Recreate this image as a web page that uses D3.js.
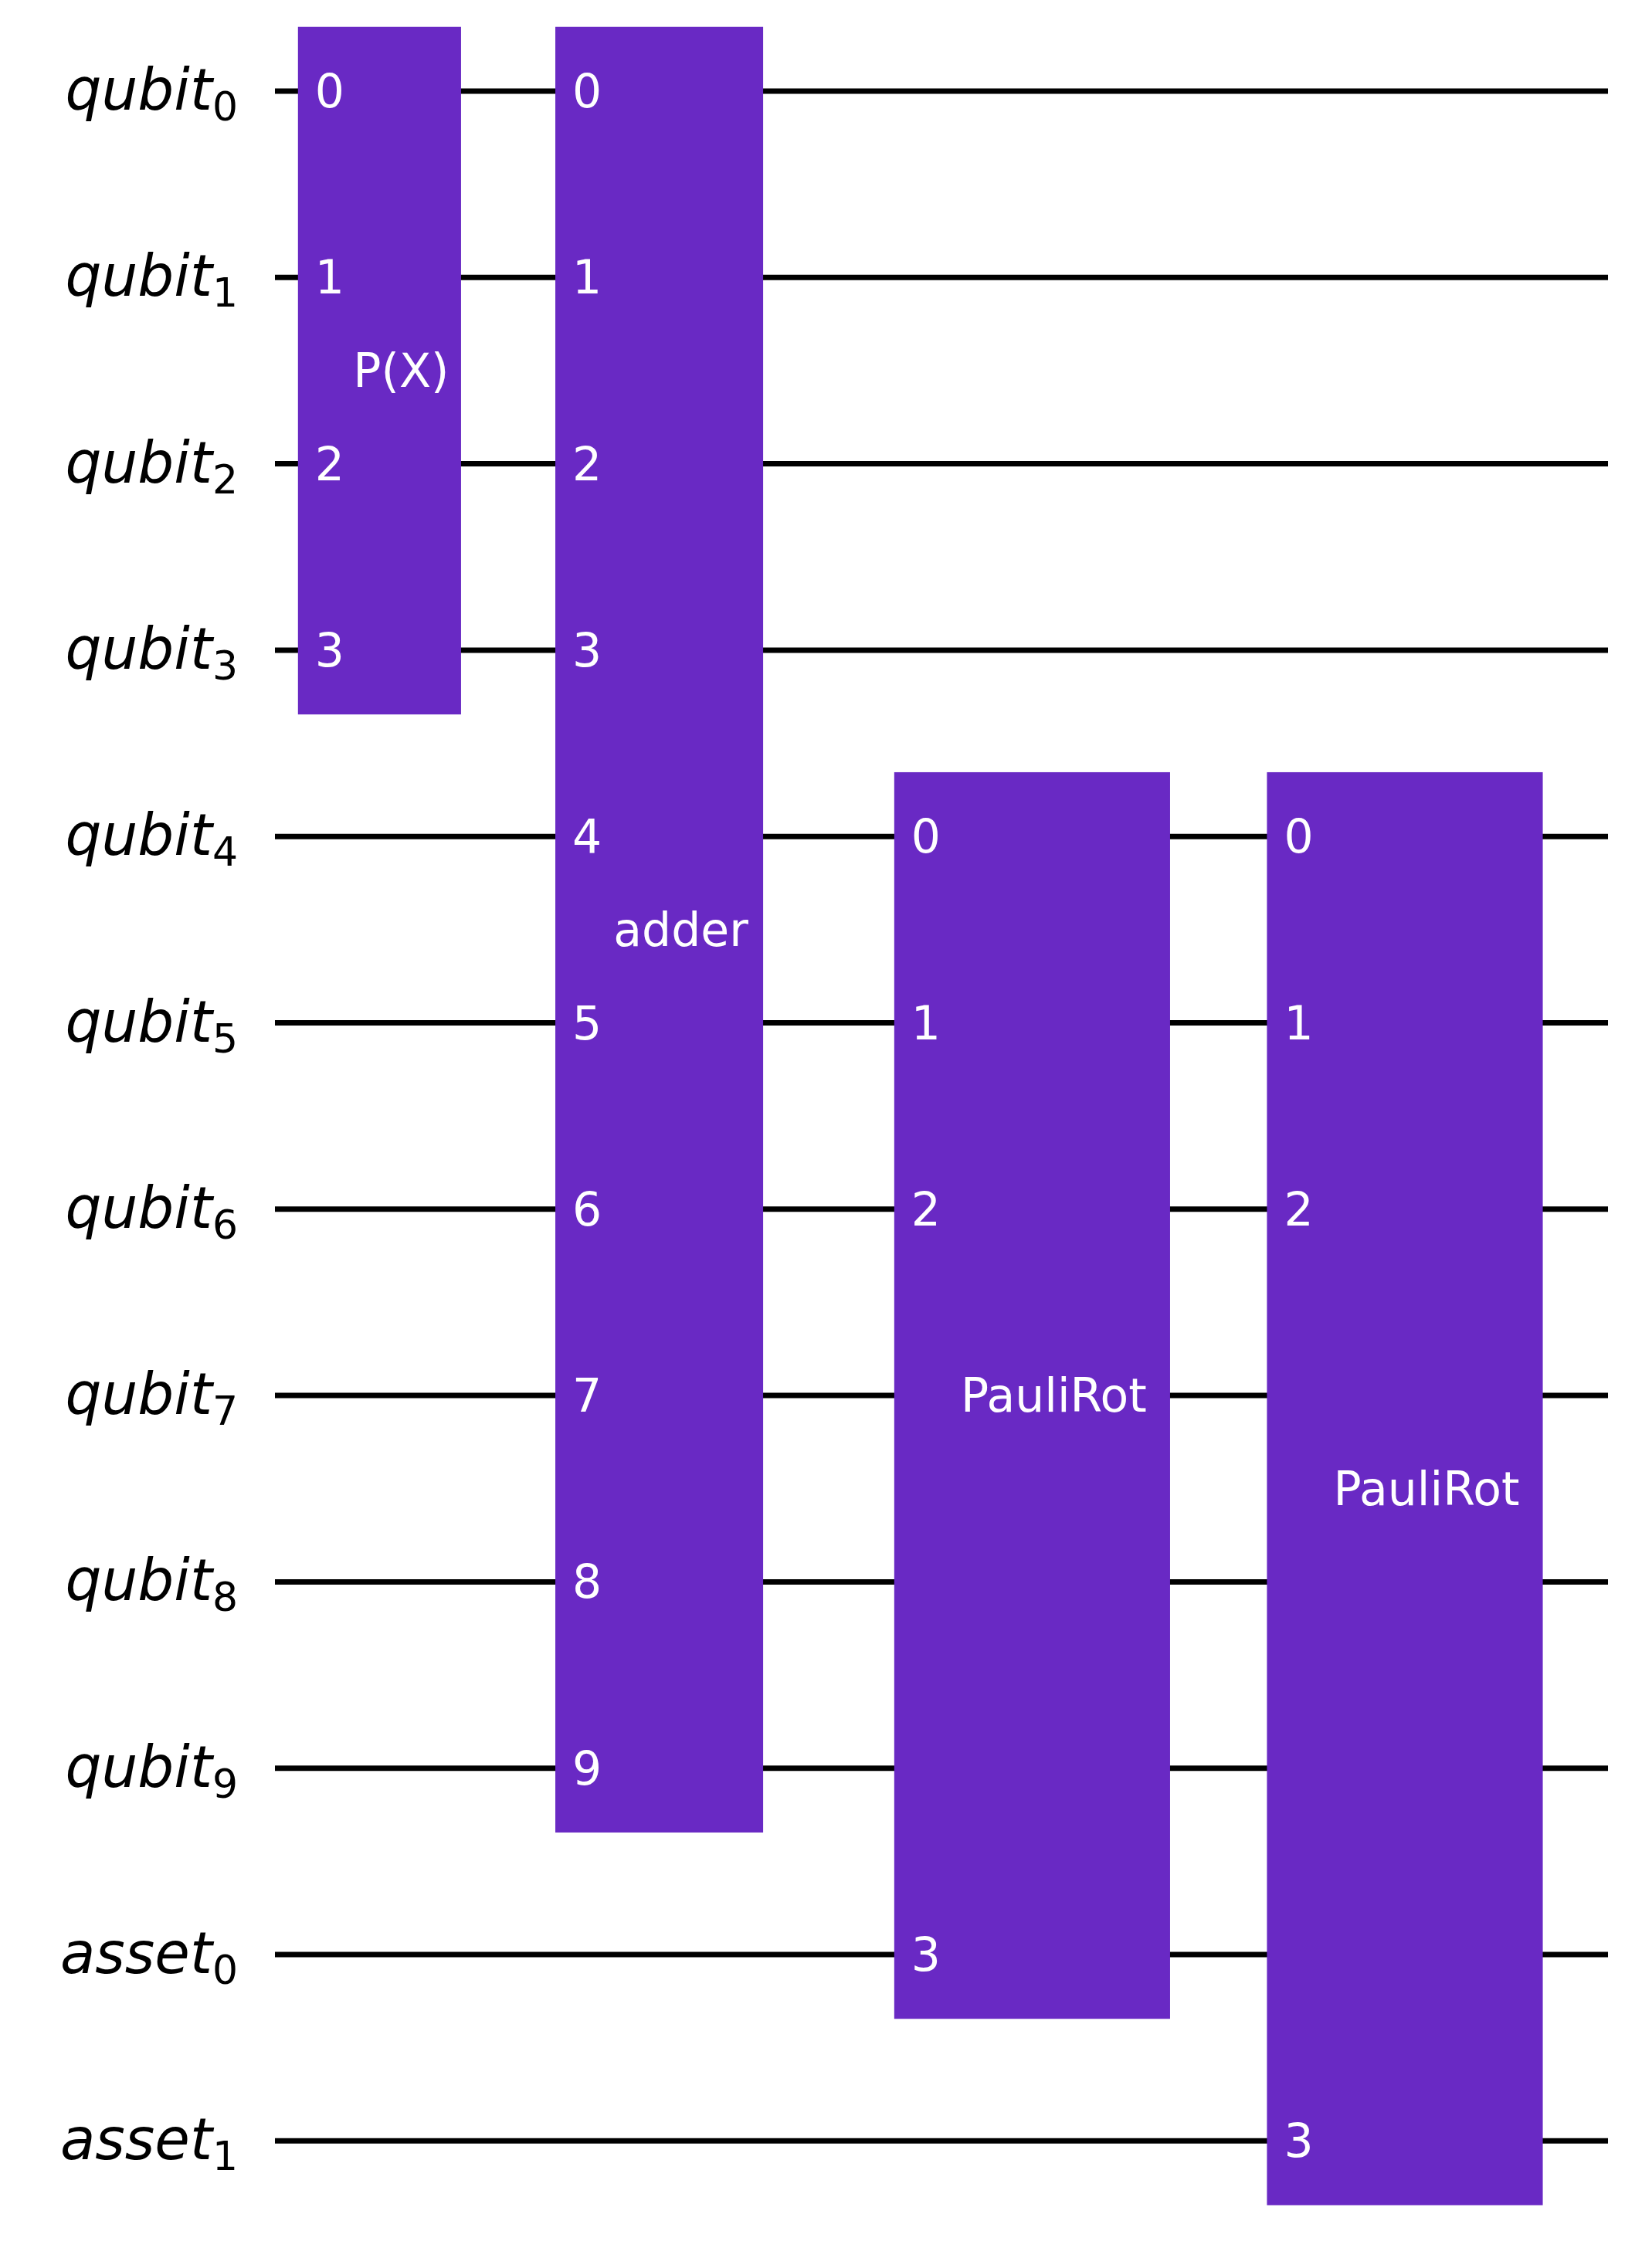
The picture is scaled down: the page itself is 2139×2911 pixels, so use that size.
<!DOCTYPE html>
<html><head><meta charset="utf-8">
<script src="https://cdn.jsdelivr.net/npm/d3@7"></script>
<style>body{margin:0;background:#fff}</style></head>
<body><script>
const wireNames = ["qubit","qubit","qubit","qubit","qubit","qubit","qubit","qubit","qubit","qubit","asset","asset"];
const wireSubs = ["0","1","2","3","4","5","6","7","8","9","0","1"];
const gateNames = ["P(X)","adder","PauliRot","PauliRot"];
const gateQubits = [[0,1,2,3],[0,1,2,3,4,5,6,7,8,9],[4,5,6,10],[4,5,6,11]];
const gateCenters = [0.561,2.062,4.063,6.063];
const gateWidths = [0.875,1.115,1.48,1.48];
const wireEnd = 7.153;

const W=2139,H=2911;
const svg=d3.select("body").append("svg").attr("width",W).attr("height",H);
const y=d3.scaleLinear().domain([0,1]).range([118,359.3]);
const x=d3.scaleLinear().domain([0,1]).range([356,597.3]);
const color="#6929C4";

svg.selectAll("line.w").data(wireNames).join("line")
 .attr("x1",x(0)).attr("x2",x(wireEnd)).attr("y1",(d,i)=>y(i)).attr("y2",(d,i)=>y(i))
 .attr("stroke","#000").attr("stroke-width",7);

const lab=svg.selectAll("text.l").data(wireNames).join("text")
 .attr("x",308).attr("y",(d,i)=>y(i)+24).attr("text-anchor","end")
 .attr("font-family","DejaVu Sans").attr("font-style","italic").attr("font-size",74);
lab.append("tspan").text(d=>d);
lab.append("tspan").attr("font-size",52).attr("dy",14).attr("font-style","normal").text((d,i)=>wireSubs[i]);

gateNames.forEach((name,g)=>{
  const qs=gateQubits[g];
  const lo=d3.min(qs),hi=d3.max(qs);
  const x0=x(gateCenters[g]-gateWidths[g]/2), x1=x(gateCenters[g]+gateWidths[g]/2);
  const half=(y(1)-y(0))*0.345;
  svg.append("rect").attr("x",x0).attr("y",y(lo)-half).attr("width",x1-x0).attr("height",y(hi)-y(lo)+2*half).attr("fill",color);
  qs.forEach((q,k)=>{
    svg.append("text").attr("x",x0+22).attr("y",y(q)+21).attr("fill","#fff")
     .attr("font-family","DejaVu Sans").attr("font-size",60).text(k);
  });
  svg.append("text").attr("x",(x0+x1)/2+28).attr("y",(y(lo)+y(hi))/2+21).attr("text-anchor","middle")
   .attr("fill","#fff").attr("font-family","DejaVu Sans").attr("font-size",60).text(name);
});
</script></body></html>
